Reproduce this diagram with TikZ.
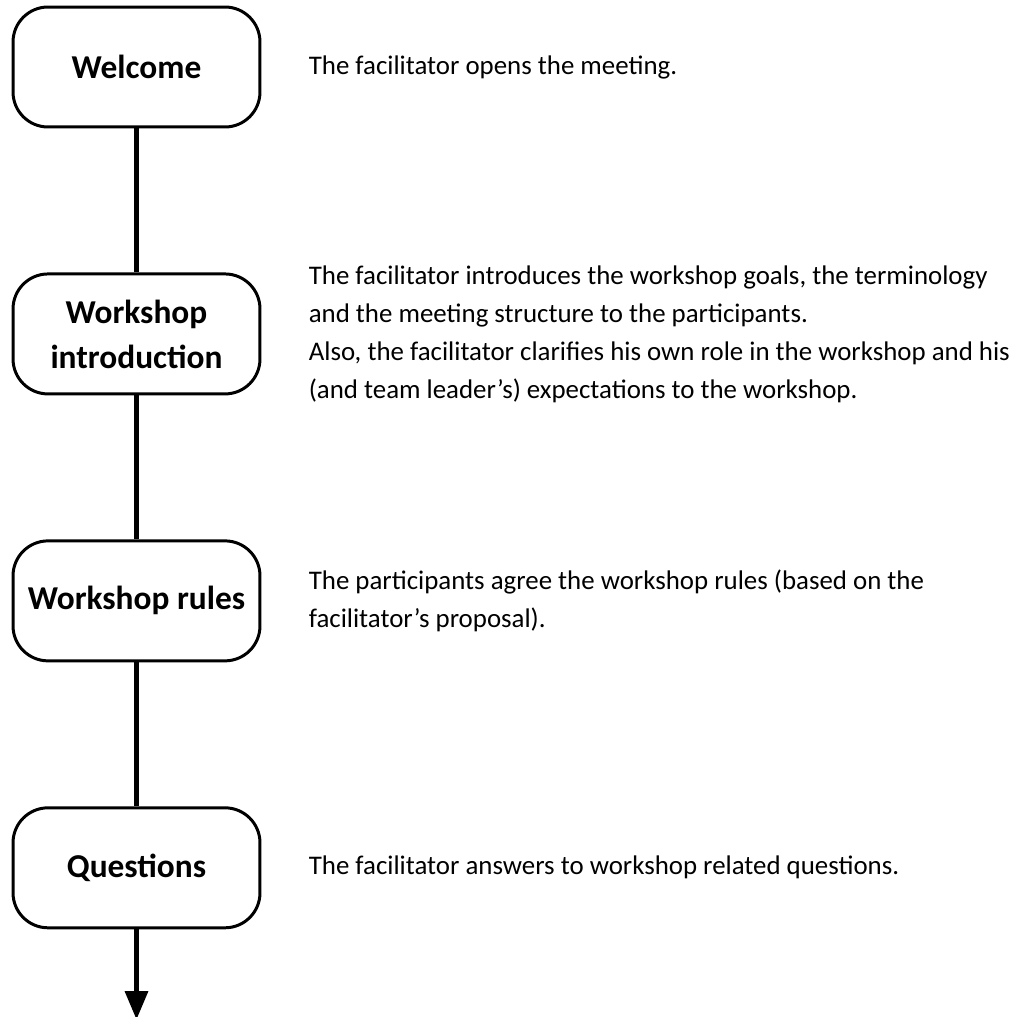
\documentclass[tikz,border=0pt]{standalone}
\usepackage{fontspec}
\setmainfont{Carlito}
\usetikzlibrary{shapes,arrows,positioning}

\begin{document}
\begin{tikzpicture}[x=0.02cm, y=-0.02cm, node distance=2.88cm, auto]
        % Define block styles
        \tikzstyle{stage} = [rectangle, draw, line width=1.7pt, rounded corners=0.7cm,
            minimum width=4.94cm, minimum height=2.4cm, align=center,
            font=\bfseries\fontsize{19}{25.6}\selectfont]
        \tikzstyle{note} = [inner sep=0pt, align=left,
            font=\fontsize{15.3}{21.6}\selectfont]
        \tikzstyle{line} = [draw, line width=2.8pt]

        \useasboundingbox (0,0) rectangle (1013,1017);

        % Nodes
        \node [stage] (welcome) at (136.5,67) {Welcome};
        \node [stage, below=of welcome] (intro) {Workshop\\introduction};
        \node [stage, below=of intro] (rules) {Workshop rules};
        \node [stage, below=of rules] (questions) {Questions};
        \coordinate [below=1.8cm of questions.south] (next);

        % Descriptions
        \node [note, right=0.94cm of welcome] (welcometext) {The facilitator opens the meeting.};
        \node [note, right=0.94cm of intro] (introtext) {The facilitator introduces the workshop goals, the terminology\\
            and the meeting structure to the participants.\\
            Also, the facilitator clarifies his own role in the workshop and his\\
            (and team leader’s) expectations to the workshop.};
        \node [note, right=0.94cm of rules] (rulestext) {The participants agree the workshop rules (based on the\\
            facilitator’s proposal).};
        \node [note, right=0.94cm of questions] (questionstext) {The facilitator answers to workshop related questions.};

        % Arrows
        \path [line] (welcome) -- (intro);
        \path [line] (intro) -- (rules);
        \path [line] (rules) -- (questions);
        \path [line, -triangle 45] (questions) -- (next);
\end{tikzpicture}
\end{document}
